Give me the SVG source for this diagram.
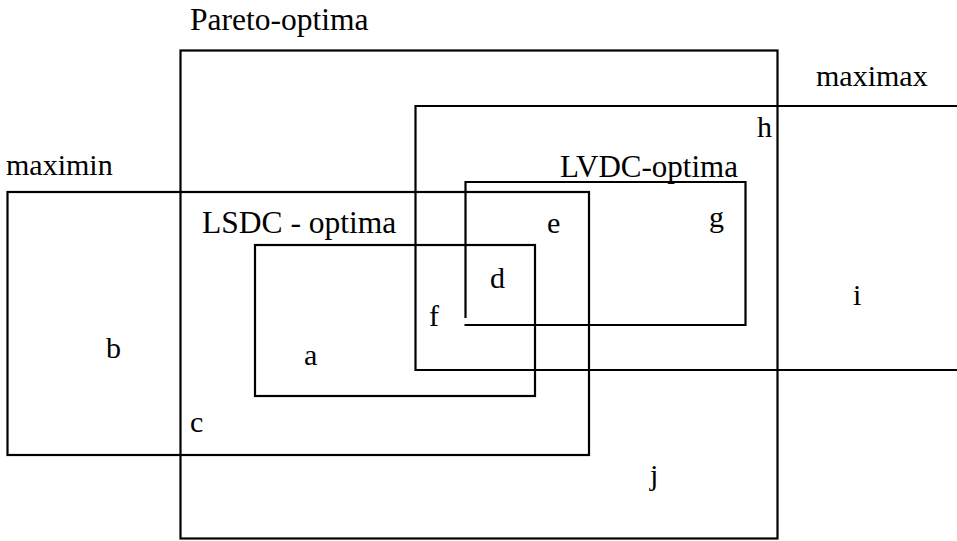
<svg xmlns="http://www.w3.org/2000/svg" width="957" height="541" viewBox="0 0 957 541">
<style>
.r{fill:none;stroke:#000;stroke-width:2.2}
.t{font-family:"Liberation Serif","Times New Roman",serif;font-size:30px;fill:#000}
.l{font-size:31.5px}
</style>
<rect width="957" height="541" fill="#fff"/>
<g id="pareto"><rect class="r" x="180.5" y="50.5" width="597" height="488"/><text class="t l" x="190" y="30">Pareto-optima</text></g>
<g id="maximax"><path class="r" d="M960 106 H415.5 V370 H960"/><text class="t" x="816" y="86">maximax</text></g>
<g id="maximin"><rect class="r" x="7.5" y="192" width="581.5" height="263"/><text class="t" x="6" y="175">maximin</text></g>
<g id="lsdc"><rect class="r" x="255" y="245" width="280" height="151"/><text class="t l" x="202" y="233">LSDC - optima</text></g>
<g id="lvdc"><path class="r" d="M465.5 318 V182 H745.5 V325 H464.5"/><text class="t" x="560" y="177" style="font-size:31px">LVDC-optima</text></g>
<g id="regions">
<text class="t" x="304" y="365">a</text>
<text class="t" x="106" y="358">b</text>
<text class="t" x="190" y="432">c</text>
<text class="t" x="490" y="288">d</text>
<text class="t" x="547" y="233">e</text>
<text class="t" x="429" y="326">f</text>
<text class="t" x="709" y="227">g</text>
<text class="t" x="757" y="137">h</text>
<text class="t" x="853" y="305">i</text>
<text class="t" x="650" y="485">j</text>
</g>
<g id="connectors"></g>
</svg>
